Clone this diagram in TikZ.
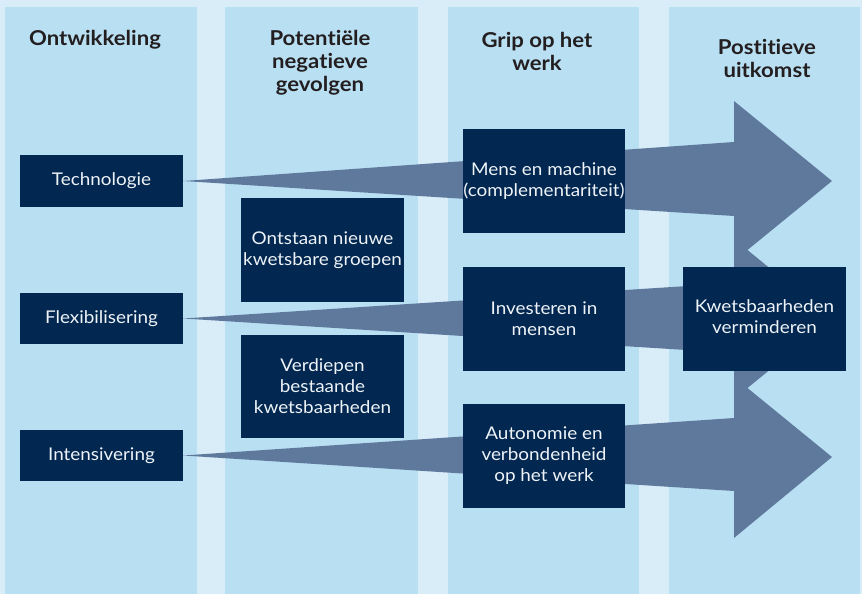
\documentclass[tikz,border=0pt]{standalone}
\usepackage{fontspec}
\setmainfont[Ligatures={NoCommon},FakeStretch=1.08]{Lato}
\usetikzlibrary{calc}
\definecolor{bgpale}{RGB}{217,237,249}
\definecolor{colblue}{RGB}{185,223,243}
\definecolor{navy}{RGB}{2,39,80}
\definecolor{arrowc}{RGB}{95,121,157}
\definecolor{headc}{RGB}{35,31,32}
\definecolor{boxtext}{RGB}{238,243,248}
\pgfdeclarelayer{back}
\pgfsetlayers{back,main}
\tikzset{
  colrect/.style={fill=colblue, draw=none},
  flowarrow/.style={fill=arrowc, draw=none},
  box/.style={fill=navy, draw=none, text=boxtext, inner sep=0pt, align=center,
    font=\fontsize{17.5}{21}\selectfont, minimum width=163pt, minimum height=#1},
  box/.default=104pt,
  head/.style={text=headc, align=center, inner sep=0pt,
    font=\fontsize{20.5}{23}\selectfont\bfseries}
}
\begin{document}
\begin{tikzpicture}[x=1pt,y=-1pt]
\useasboundingbox (0,0) rectangle (862,594);
% boxes
\node[box=52pt] (tech) at (101.5,181) {Technologie};
\node[box=51pt] (flex) at (101.5,318.5) {Flexibilisering};
\node[box=51pt] (inten) at (101.5,455.5) {Intensivering};
\node[box] (ontst) at (322.5,250) {Ontstaan nieuwe\\kwetsbare groepen};
\node[box=103pt] (verd) at (322.5,386.5) {Verdiepen\\bestaande\\kwetsbaarheden};
\node[box, minimum width=162pt] (mens) at (544,181) {Mens en machine\\(complementariteit)};
\node[box, minimum width=162pt] (invest) at (544,319) {Investeren in\\mensen};
\node[box, minimum width=162pt] (auto) at (544,456) {Autonomie en\\verbondenheid\\op het werk};
\node[box] (kwets) at (764.5,319) {\raisebox{3pt}{\begin{tabular}{@{}c@{}}Kwetsbaarheden\\verminderen\end{tabular}}};
% headers
\node[head] (h1) at (95,40) {Ontwikkeling};
\node[head] (h2) at (320,63) {Potentiële\\negatieve\\gevolgen};
\node[head] (h3) at (537,51.5) {Grip op het\\werk};
\node[head] (h4) at (767,58.5) {Postitieve\\uitkomst};
% tips
\coordinate (tip1) at (832,181);
\coordinate (tip2) at (832,319);
\coordinate (tip3) at (832,457);
\begin{pgfonlayer}{back}
  \fill[bgpale] (0,0) rectangle (862,594);
  \fill[colrect] (5,7) rectangle (197,594);
  \fill[colrect] (225,7) rectangle (418,594);
  \fill[colrect] (448,7) rectangle (639,594);
  \fill[colrect] (669,7) rectangle (860,594);
  \fill[flowarrow] (tech.east) -- ($(tip1)+(-98,-39)$) -- ($(tip1)+(-98,-80)$) -- (tip1)
     -- ($(tip1)+(-98,80)$) -- ($(tip1)+(-98,35)$) -- cycle;
  \fill[flowarrow] (flex.east) -- ($(tip2)+(-98,-36)$) -- ($(tip2)+(-98,-80)$) -- (tip2)
     -- ($(tip2)+(-98,80)$) -- ($(tip2)+(-98,34)$) -- cycle;
  \fill[flowarrow] (inten.east) -- ($(tip3)+(-98,-39)$) -- ($(tip3)+(-98,-80)$) -- (tip3)
     -- ($(tip3)+(-98,81)$) -- ($(tip3)+(-98,34)$) -- cycle;
\end{pgfonlayer}
\end{tikzpicture}
\end{document}
